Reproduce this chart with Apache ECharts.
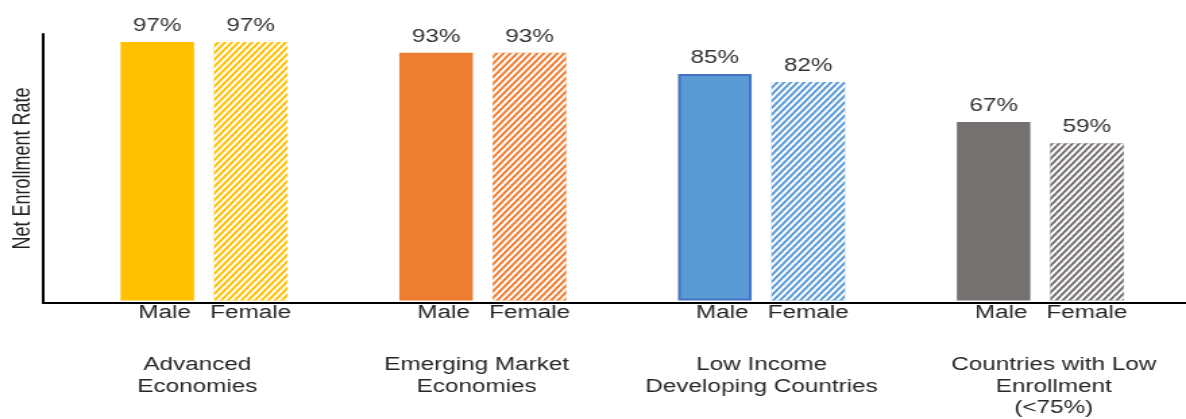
<!DOCTYPE html>
<html>
<head>
  <meta charset="utf-8">
  <title>Net Enrollment Rate</title>
  <style>
    html, body {
      margin: 0;
      padding: 0;
      background: #fff;
      overflow: hidden;
    }

    /* the original picture is stretched sideways, so the chart is drawn narrow and widened */
    #chart {
      width: 879px;
      height: 419px;
      transform: scaleX(1.34926);
      transform-origin: 0 0;
    }
  </style>
</head>
<body>
  <div id="chart"></div>
  <script src="https://cdn.jsdelivr.net/npm/echarts@6/dist/echarts.min.js"></script>
  <script>
    var categories = ['Advanced\nEconomies', 'Emerging Market\nEconomies', 'Low Income\nDeveloping Countries', 'Countries with Low\nEnrollment\n(<75%)'];
    var maleValues = [97, 93, 85, 67];
    var femaleValues = [97, 93, 82, 59];
    var groupColors = ['#FFC000', '#ED7D31', '#5B9BD5', '#767171'];
    var genderLabels = ['Male', 'Female'];

    var font = 'Liberation Sans, Arial, sans-serif';
    var chart = echarts.init(document.getElementById('chart'));

    // stripes for the female bars
    var stripes = {
      symbol: 'rect',
      symbolSize: 1,
      color: '#ffffff',
      dashArrayX: [1, 0],
      dashArrayY: [2, 2],
      rotation: -0.93
    };

    // the group names are not quite centred under their bars in the original
    var nameShift = [[0, 10, 0, 0], [0, 9, 0, 0], [0, 0, 0, 0], [0, 0, 0, 20]];
    var rich = {};
    nameShift.forEach(function (p, i) {
      rich['c' + i] = { padding: p, fontFamily: font, fontSize: 18, lineHeight: 21.5, color: '#262626' };
    });

    function tagSeries(name, stack, dx) {
      return {
        name: name + '-tag',
        type: 'bar',
        xAxisIndex: 1,
        yAxisIndex: 1,
        stack: stack,
        silent: true,
        data: categories.map(function () { return 0; }),
        itemStyle: { color: 'transparent' },
        label: {
          show: true,
          position: 'bottom',
          distance: 4,
          offset: [dx, 0],
          formatter: name,
          fontFamily: font,
          fontSize: 18,
          color: '#262626'
        }
      };
    }

    var valueLabel = {
      show: true,
      position: 'top',
      distance: 7,
      formatter: '{c}%',
      fontFamily: font,
      fontSize: 18,
      color: '#333333'
    };

    var option = {
      animation: false,
      grid: [
        { left: 30.4, right: 0, top: 34, bottom: 116 },
        { left: 47.9, right: 4.7, top: 34, bottom: 116 }
      ],
      xAxis: [{
        gridIndex: 0,
        type: 'value',
        min: 0,
        max: 1,
        axisLine: { show: true, lineStyle: { color: '#000', width: 2 } },
        axisTick: { show: false },
        axisLabel: { show: false },
        splitLine: { show: false }
      }, {
        gridIndex: 1,
        type: 'category',
        data: categories,
        axisLine: { show: false },
        axisTick: { show: false },
        axisLabel: {
          margin: 54,
          interval: 0,
          fontFamily: font,
          fontSize: 18,
          lineHeight: 21.5,
          color: '#262626',
          formatter: function (value, index) {
            return '{c' + index + '|' + value + '}';
          },
          rich: rich
        }
      }],
      yAxis: [{
        gridIndex: 0,
        type: 'value',
        min: 0,
        max: 100,
        name: 'Net Enrollment Rate',
        nameLocation: 'middle',
        nameGap: 6,
        nameTextStyle: { fontFamily: font, fontSize: 18, color: '#222' },
        axisLine: { show: true, lineStyle: { color: '#000', width: 2 } },
        axisTick: { show: false },
        axisLabel: { show: false },
        splitLine: { show: false }
      }, {
        gridIndex: 1,
        type: 'value',
        min: 0,
        max: 100,
        show: false
      }],
      series: [
        tagSeries(genderLabels[0], 'male', 5.5),
        {
          name: genderLabels[0],
          type: 'bar',
          xAxisIndex: 1,
          yAxisIndex: 1,
          stack: 'male',
          barWidth: 54.5,
          barGap: '27%',
          data: maleValues.map(function (v, i) {
            var style = { color: groupColors[i] };
            if (i === 2) {
              style.borderColor = '#4472C4';
              style.borderWidth = 2;
            }
            return { value: v, itemStyle: style };
          }),
          label: valueLabel
        },
        tagSeries(genderLabels[1], 'female', 0),
        {
          name: genderLabels[1],
          type: 'bar',
          xAxisIndex: 1,
          yAxisIndex: 1,
          stack: 'female',
          barWidth: 54.5,
          barGap: '27%',
          data: femaleValues.map(function (v, i) {
            return { value: v, itemStyle: { color: groupColors[i], decal: stripes } };
          }),
          label: valueLabel
        }
      ]
    };

    chart.setOption(option);
  </script>
</body>
</html>
